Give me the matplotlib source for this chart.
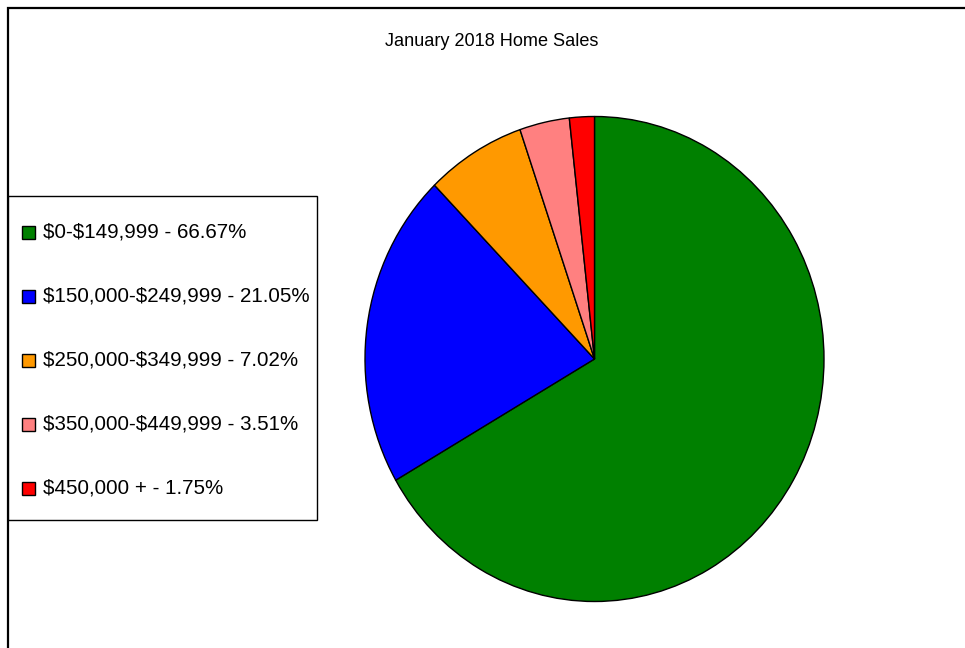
import matplotlib
matplotlib.use('Agg')
import matplotlib.pyplot as plt
from matplotlib.patches import Rectangle

plt.rcParams['font.family'] = ['Liberation Sans', 'DejaVu Sans']
plt.rcParams['text.parse_math'] = False

title = 'January 2018 Home Sales'
ranges = ['$0-$149,999', '$150,000-$249,999', '$250,000-$349,999',
          '$350,000-$449,999', '$450,000 +']
shares = [66.67, 21.05, 7.02, 3.51, 1.75]
colors = ['#008000', '#0000ff', '#ff9900', '#ff8080', '#ff0000']

W, H = 965, 648
fig = plt.figure(figsize=(W / 100, H / 100), dpi=100)

# outer frame, starts at (8, 8) and runs off the right / bottom edges
fig.patches.append(Rectangle((8 / W, -0.1), 2, 1 - 8 / H + 0.1, transform=fig.transFigure,
                             fill=False, edgecolor='black', linewidth=1.6))

fig.text(492 / W, 1 - 42 / H, title, ha='center', va='center', fontsize=13.1)

# pie (slightly elliptical in the original)
cx, cy, rx, ry = 594.5, 359, 229.5, 242.5
ax = fig.add_axes([(cx - rx) / W, 1 - (cy + ry) / H, 2 * rx / W, 2 * ry / H])
wedges, _ = ax.pie(shares, colors=colors, startangle=90, counterclock=False,
                   wedgeprops=dict(edgecolor='black', linewidth=1.0))
for w in wedges:
    w.set_clip_on(False)
ax.set_aspect('auto')
ax.set_xlim(-1, 1)
ax.set_ylim(-1, 1)
ax.axis('off')

# legend box drawn by hand
fig.patches.append(Rectangle((8 / W, 1 - 520 / H), 309 / W, 324 / H, transform=fig.transFigure,
                             fill=True, facecolor='white', edgecolor='black', linewidth=1.0))
for i, (r, s, c) in enumerate(zip(ranges, shares, colors)):
    y = 232 + i * 64
    fig.patches.append(Rectangle((22 / W, 1 - (y + 6.5) / H), 13 / W, 13 / H,
                                 transform=fig.transFigure, facecolor=c,
                                 edgecolor='black', linewidth=1.0))
    fig.text(43 / W, 1 - y / H, f'{r} - {s:.2f}%', ha='left', va='center', fontsize=14.8)

fig.savefig('out.png', dpi=100, facecolor='white')
